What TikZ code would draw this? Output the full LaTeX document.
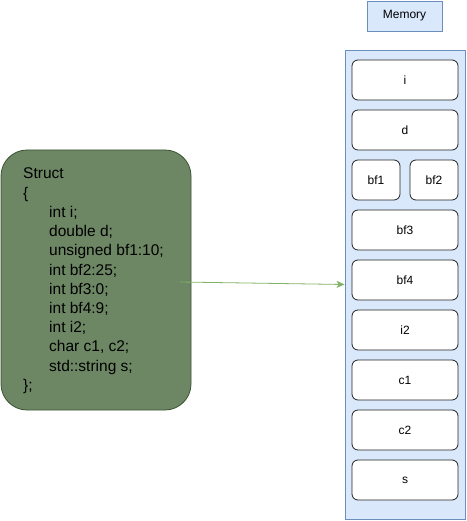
\documentclass[tikz,border=0pt]{standalone}
\usepackage{fontspec}
\setmainfont{Liberation Sans}
\usetikzlibrary{arrows.meta}
\definecolor{memfill}{HTML}{DAE8FC}
\definecolor{memline}{HTML}{6C8EBF}
\definecolor{structfill}{HTML}{6D8764}
\definecolor{structline}{HTML}{3A5431}
\definecolor{arrowgreen}{HTML}{82B366}
\definecolor{cellline}{HTML}{222222}
\begin{document}
\begin{tikzpicture}[x=1pt,y=-1pt,
  memstyle/.style={draw=memline,fill=memfill,line width=0.8pt},
  cell/.style={draw=cellline,fill=white,rounded corners=6pt,line width=0.8pt,font=\fontsize{12}{14}\selectfont},
  code/.style={anchor=base west,inner sep=0pt,font=\fontsize{15.5}{19}\selectfont}]
\useasboundingbox (0,0) rectangle (466,521);
% struct box
\draw[fill=structfill,draw=structline,rounded corners=26pt,line width=0.8pt] (1,150) rectangle (191,410);
\node[code] (l0) at (23,179) {Struct};
\node[code] (l1) at (23,198.2) {\{};
\node[code] (l2) at (49,217.4) {int i;};
\node[code] (l3) at (49,236.6) {double d;};
\node[code] (l4) at (49,255.8) {unsigned bf1:10;};
\node[code] (l5) at (49,275) {int bf2:25;};
\node[code] (l6) at (49,294.2) {int bf3:0;};
\node[code] (l7) at (49,313.4) {int bf4:9;};
\node[code] (l8) at (49,332.6) {int i2;};
\node[code] (l9) at (49,351.8) {char c1, c2;};
\node[code] (l10) at (49,371) {std::string s;};
\node[code] (l11) at (23,390.2) {\};};
% memory label
\node[memstyle,minimum width=75pt,minimum height=30pt,inner sep=0pt,font=\fontsize{12}{14}\selectfont] (memlabel) at (404.5,16) {Memory};
% container
\node[memstyle,minimum width=120pt,minimum height=469pt,inner sep=0pt] (mem) at (405,284.5) {};
% cells
\node[cell,minimum width=106pt,minimum height=40pt] (ci) at (405,80) {i};
\node[cell,minimum width=106pt,minimum height=40pt] (cd) at (405,130) {d};
\node[cell,minimum width=48pt,minimum height=40pt] (cbf1) at (376,180) {bf1};
\node[cell,minimum width=48pt,minimum height=40pt] (cbf2) at (434,180) {bf2};
\node[cell,minimum width=106pt,minimum height=40pt] (cbf3) at (405,230) {bf3};
\node[cell,minimum width=106pt,minimum height=40pt] (cbf4) at (405,280) {bf4};
\node[cell,minimum width=106pt,minimum height=40pt] (ci2) at (405,330) {i2};
\node[cell,minimum width=106pt,minimum height=40pt] (cc1) at (405,380) {c1};
\node[cell,minimum width=106pt,minimum height=40pt] (cc2) at (405,430) {c2};
\node[cell,minimum width=106pt,minimum height=40pt] (cs) at (405,480) {s};
% arrow
\coordinate (astart) at (180,282);
\draw[draw=arrowgreen,line width=0.8pt,-{Stealth[length=8pt,width=7pt,inset=2pt]}] (astart) -- (mem.west);
\end{tikzpicture}
\end{document}
